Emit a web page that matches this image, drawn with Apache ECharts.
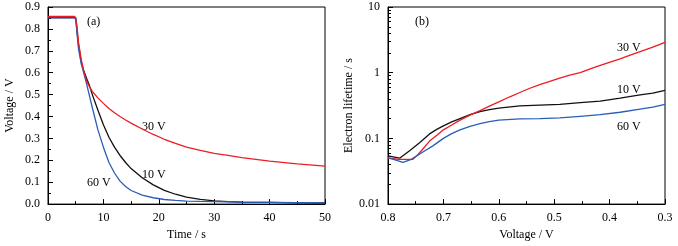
<!DOCTYPE html>
<html>
<head>
<meta charset="utf-8">
<script src="https://cdn.jsdelivr.net/npm/echarts@6/dist/echarts.min.js"></script>
<style>
  html, body { margin: 0; padding: 0; background: #fff; }
  #chart { width: 678px; height: 246px; }
</style>
</head>
<body>
<div id="chart"></div>
<script>
// panel (a): open-circuit voltage decay
const timeRed = [0, 4.8, 5.0, 5.2, 5.5, 6, 6.5, 7, 7.5, 8, 9, 10, 11, 12, 13, 14, 15, 17, 19, 21, 23, 25, 27.5, 30, 32.5, 35, 40, 45, 50];
const red30V  = [0.857, 0.857, 0.863, 0.82, 0.74, 0.66, 0.60, 0.56, 0.535, 0.515, 0.485, 0.46, 0.437, 0.417, 0.40, 0.384, 0.37, 0.343, 0.318, 0.296, 0.277, 0.26, 0.245, 0.232, 0.222, 0.212, 0.196, 0.184, 0.173];

const timeA = [0, 5, 5.2, 5.5, 6, 6.5, 7, 7.5, 8, 9, 10, 11, 12, 13, 14, 15, 17, 19, 21, 23, 25, 27.5, 30, 32.5, 35, 40, 45, 50];
const black10V = [0.852, 0.852, 0.80, 0.73, 0.65, 0.605, 0.572, 0.54, 0.50, 0.43, 0.362, 0.305, 0.26, 0.222, 0.19, 0.162, 0.12, 0.088, 0.063, 0.045, 0.032, 0.022, 0.015, 0.011, 0.009, 0.008, 0.006, 0.005];
const blue60V  = [0.85, 0.85, 0.79, 0.71, 0.64, 0.595, 0.545, 0.493, 0.44, 0.34, 0.26, 0.19, 0.142, 0.105, 0.08, 0.062, 0.041, 0.029, 0.021, 0.017, 0.014, 0.012, 0.011, 0.010, 0.009, 0.008, 0.007, 0.006];

// panel (b): electron lifetime vs voltage
const voltRed = [0.8, 0.79, 0.78, 0.77, 0.755, 0.745, 0.737, 0.725, 0.71, 0.7, 0.685, 0.67, 0.652, 0.634, 0.617, 0.6, 0.58, 0.562, 0.544, 0.526, 0.508, 0.49, 0.472, 0.453, 0.435, 0.417, 0.399, 0.381, 0.363, 0.345, 0.322, 0.3];
const tauRed  = [0.050, 0.049, 0.048, 0.048, 0.048, 0.058, 0.069, 0.091, 0.115, 0.135, 0.16, 0.19, 0.226, 0.265, 0.31, 0.36, 0.43, 0.5, 0.58, 0.66, 0.74, 0.83, 0.92, 1.0, 1.14, 1.29, 1.45, 1.62, 1.85, 2.1, 2.45, 2.9];
const voltBlack = [0.8, 0.779, 0.761, 0.743, 0.725, 0.712, 0.7, 0.685, 0.67, 0.652, 0.634, 0.617, 0.6, 0.562, 0.526, 0.49, 0.453, 0.417, 0.381, 0.345, 0.322, 0.3];
const tauBlack  = [0.054, 0.05, 0.065, 0.086, 0.117, 0.137, 0.155, 0.178, 0.2, 0.23, 0.255, 0.275, 0.288, 0.312, 0.322, 0.33, 0.35, 0.37, 0.41, 0.46, 0.49, 0.54];
const voltBlue = [0.8, 0.773, 0.758, 0.737, 0.719, 0.7, 0.685, 0.67, 0.652, 0.634, 0.617, 0.6, 0.562, 0.526, 0.49, 0.453, 0.417, 0.381, 0.345, 0.322, 0.3];
const tauBlue  = [0.051, 0.043, 0.048, 0.062, 0.077, 0.1, 0.118, 0.135, 0.153, 0.168, 0.18, 0.19, 0.198, 0.2, 0.205, 0.217, 0.23, 0.25, 0.28, 0.3, 0.33];

const RED = '#ec1c24';
const BLUE = '#2a5db8';
const BLACK = '#111111';
const FONT = '"Liberation Serif", "DejaVu Serif", serif';

const pairs = (xs, ys) => xs.map((x, i) => [x, ys[i]]);

function axisCommon() {
  return {
    axisLine: { show: true, onZero: false, lineStyle: { color: '#000', width: 1 } },
    axisTick: { show: true, inside: true, length: 5, lineStyle: { color: '#000' } },
    minorTick: { show: true, splitNumber: 2, length: 3, lineStyle: { color: '#000' } },
    splitLine: { show: false },
    axisLabel: { color: '#000', fontFamily: FONT, fontSize: 12 },
    nameTextStyle: { color: '#000', fontFamily: FONT, fontSize: 12 },
  };
}

function lineSeries(name, data, color, xi, yi) {
  return {
    name, type: 'line', data,
    xAxisIndex: xi, yAxisIndex: yi,
    showSymbol: false, symbol: 'none',
    smooth: false,
    lineStyle: { color, width: 1.3 },
    z: 3,
  };
}

function txt(x, y, text) {
  return { type: 'text', left: x, top: y, style: { text, fill: '#000', font: '12px ' + FONT } };
}

const chart = echarts.init(document.getElementById('chart'));
chart.setOption({
  animation: false,
  grid: [
    { left: 48, right: 353, top: 7, bottom: 34, show: true, borderColor: '#000', borderWidth: 1 },
    { left: 388, right: 13, top: 7, bottom: 34, show: true, borderColor: '#000', borderWidth: 1 },
  ],
  xAxis: [
    Object.assign(axisCommon(), {
      gridIndex: 0, type: 'value', min: 0, max: 50, interval: 10,
      name: 'Time / s', nameLocation: 'middle', nameGap: 22,
    }),
    Object.assign(axisCommon(), {
      gridIndex: 1, type: 'value', min: 0.3, max: 0.8, interval: 0.1, inverse: true,
      name: 'Voltage / V', nameLocation: 'middle', nameGap: 22,
      axisLabel: { color: '#000', fontFamily: FONT, fontSize: 12, formatter: v => v.toFixed(1) },
    }),
  ],
  yAxis: [
    Object.assign(axisCommon(), {
      gridIndex: 0, type: 'value', min: 0, max: 0.9, interval: 0.1,
      name: 'Voltage / V', nameLocation: 'middle', nameGap: 32,
      axisLabel: { color: '#000', fontFamily: FONT, fontSize: 12, formatter: v => v.toFixed(1) },
    }),
    Object.assign(axisCommon(), {
      gridIndex: 1, type: 'log', logBase: 10, min: 0.01, max: 10,
      name: 'Electron lifetime / s', nameLocation: 'middle', nameGap: 32,
      minorTick: { show: true, splitNumber: 9, length: 3, lineStyle: { color: '#000' } },
    }),
  ],
  graphic: [
    txt(87, 16, '(a)'),
    txt(142, 121, '30 V'),
    txt(142, 169, '10 V'),
    txt(87, 177, '60 V'),
    txt(415, 16, '(b)'),
    txt(617, 42, '30 V'),
    txt(617, 84, '10 V'),
    txt(617, 121, '60 V'),
  ],
  series: [
    lineSeries('10 V', pairs(timeA, black10V), BLACK, 0, 0),
    lineSeries('60 V', pairs(timeA, blue60V), BLUE, 0, 0),
    lineSeries('30 V', pairs(timeRed, red30V), RED, 0, 0),
    lineSeries('10 V b', pairs(voltBlack, tauBlack), BLACK, 1, 1),
    lineSeries('30 V b', pairs(voltRed, tauRed), RED, 1, 1),
    lineSeries('60 V b', pairs(voltBlue, tauBlue), BLUE, 1, 1),
  ],
});
</script>
</body>
</html>
